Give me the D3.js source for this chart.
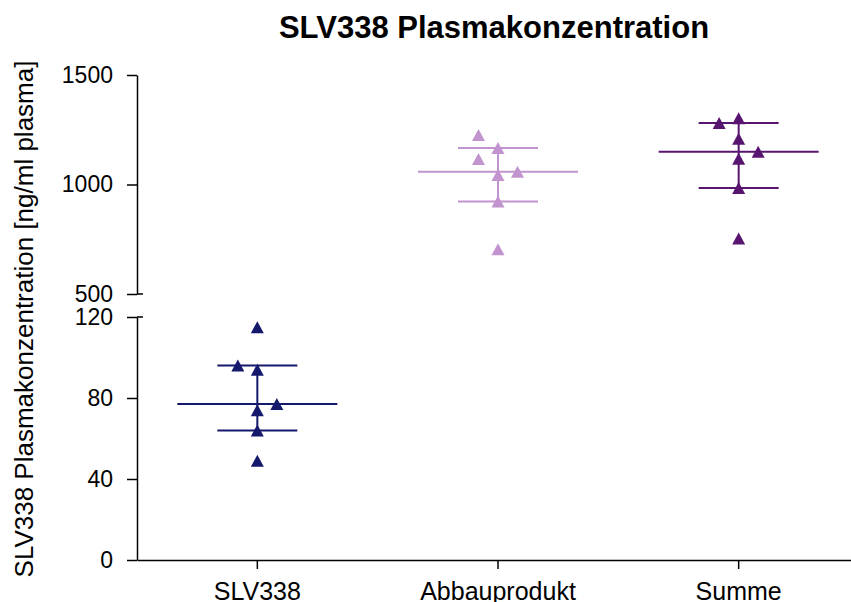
<!DOCTYPE html>
<html>
<head>
<meta charset="utf-8">
<script src="https://cdn.jsdelivr.net/npm/d3@7"></script>
<style>
  body { margin: 0; background: #fff; }
  svg { display: block; font-family: "Liberation Sans", Arial, sans-serif; }
</style>
</head>
<body>
<svg id="chart"></svg>
<script>
const categories = ["SLV338", "Abbauprodukt", "Summe"];

// plasma concentrations, ng/ml
const slv338 = [115, 96, 94, 77, 74, 64, 49];
const abbauprodukt = [1226, 1167, 1116, 1058, 1043, 922, 704];
const summe = [1302, 1281, 1209, 1150, 1118, 984, 753];

// horizontal scatter column of each point (-1 left, 0 centre, 1 right)
const slv338Jitter = [0, -1, 0, 1, 0, 0, 0];
const abbauproduktJitter = [-1, 0, -1, 1, 0, 0, 0];
const summeJitter = [0, -1, 0, 1, 0, 0, 0];

const upperTicks = [500, 1000, 1500];
const lowerTicks = [0, 40, 80, 120];

const colors = ["#14196c", "#c294cf", "#58156f"];

const svgWidth = 851;
const svgHeight = 602;

const svg = d3.select("#chart")
  .attr("width", svgWidth)
  .attr("height", svgHeight);

const x = d3.scaleBand()
  .domain(categories)
  .range([137, 859]);

// broken y axis: two stacked linear segments
const yLower = d3.scaleLinear().domain([0, 120]).range([560, 317]);
const yUpper = d3.scaleLinear().domain([500, 1500]).range([294, 75]);

const groups = [
  { name: categories[0], values: slv338, jitter: slv338Jitter, y: yLower, color: colors[0] },
  { name: categories[1], values: abbauprodukt, jitter: abbauproduktJitter, y: yUpper, color: colors[1] },
  { name: categories[2], values: summe, jitter: summeJitter, y: yUpper, color: colors[2] }
];

// quartiles the (n+1)p way
function quantile(values, p) {
  const s = values.slice().sort((a, b) => a - b);
  const n = s.length;
  const pos = (n + 1) * p;
  const lo = Math.floor(pos);
  if (lo < 1) return s[0];
  if (lo >= n) return s[n - 1];
  return s[lo - 1] + (pos - lo) * (s[lo] - s[lo - 1]);
}

// title
svg.append("text")
  .attr("x", 494)
  .attr("y", 38)
  .attr("text-anchor", "middle")
  .attr("font-size", "31px")
  .attr("font-weight", "bold")
  .text("SLV338 Plasmakonzentration");

// y axis label
svg.append("text")
  .attr("transform", "translate(33,319) rotate(-90)")
  .attr("text-anchor", "middle")
  .attr("font-size", "26px")
  .text("SLV338 Plasmakonzentration [ng/ml plasma]");

const axisStyle = size => g => {
  g.attr("font-family", null);
  g.selectAll("text").attr("font-size", size).attr("fill", "#000");
  g.selectAll("line, path").attr("stroke", "#000").attr("stroke-width", 1.5);
};

svg.append("g")
  .attr("transform", "translate(137,0)")
  .call(d3.axisLeft(yUpper).tickValues(upperTicks).tickFormat(d3.format("d"))
    .tickSize(10).tickSizeOuter(0).tickPadding(14))
  .call(axisStyle("23px"));

svg.append("g")
  .attr("transform", "translate(137,0)")
  .call(d3.axisLeft(yLower).tickValues(lowerTicks).tickFormat(d3.format("d"))
    .tickSize(10).tickSizeOuter(0).tickPadding(14))
  .call(axisStyle("23px"));

// break marks reach across the axis
[yUpper(500), yLower(120)].forEach(yy => {
  svg.append("line")
    .attr("x1", 137).attr("x2", 143)
    .attr("y1", yy).attr("y2", yy)
    .attr("stroke", "#000").attr("stroke-width", 1.5);
});

svg.append("g")
  .attr("transform", "translate(0,560)")
  .call(d3.axisBottom(x).tickSize(9).tickSizeOuter(0).tickPadding(13))
  .call(axisStyle("25px"));

const tri = "M0,-6L6.5,6L-6.5,6Z";
const jitterStep = 19.5;

groups.forEach(gr => {
  const cx = x(gr.name) + x.bandwidth() / 2;
  const q1 = quantile(gr.values, 0.25);
  const med = quantile(gr.values, 0.5);
  const q3 = quantile(gr.values, 0.75);
  const g = svg.append("g").attr("stroke", gr.color).attr("stroke-width", 2);

  g.append("line")
    .attr("x1", cx - 80).attr("x2", cx + 80)
    .attr("y1", gr.y(med)).attr("y2", gr.y(med));
  [q1, q3].forEach(q => {
    g.append("line")
      .attr("x1", cx - 40).attr("x2", cx + 40)
      .attr("y1", gr.y(q)).attr("y2", gr.y(q));
  });
  g.append("line")
    .attr("x1", cx).attr("x2", cx)
    .attr("y1", gr.y(q1)).attr("y2", gr.y(q3));

  svg.append("g").selectAll("path")
    .data(gr.values)
    .enter()
    .append("path")
    .attr("d", tri)
    .attr("fill", gr.color)
    .attr("transform", (d, i) => `translate(${cx + gr.jitter[i] * jitterStep},${gr.y(d)})`);
});
</script>
</body>
</html>
